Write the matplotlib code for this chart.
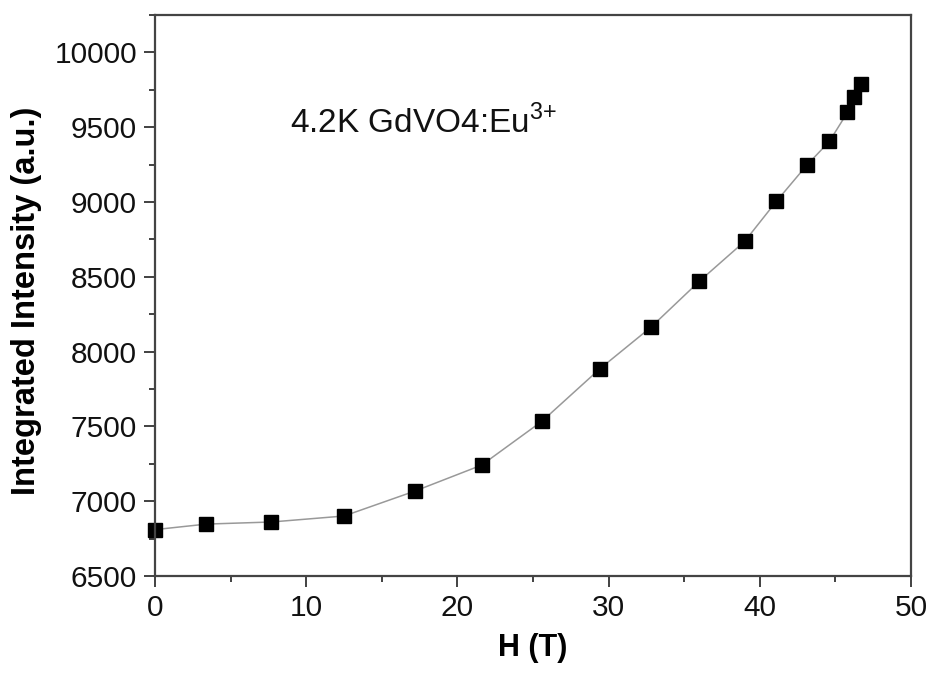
import matplotlib
matplotlib.use("Agg")
import matplotlib.pyplot as plt
from matplotlib.ticker import MultipleLocator

plt.rcParams['font.family'] = ['Liberation Sans', 'DejaVu Sans']
plt.rcParams['mathtext.fontset'] = 'custom'
plt.rcParams['mathtext.rm'] = 'Liberation Sans'

# field (T) and integrated intensity (a.u.)
field = [0.0, 3.4, 7.7, 12.5, 17.2, 21.6, 25.6, 29.4, 32.8, 36.0,
         39.0, 41.1, 43.1, 44.6, 45.8, 46.2, 46.7]
intensity = [6810, 6847, 6861, 6901, 7068, 7241, 7535, 7883, 8163, 8470,
             8737, 9005, 9245, 9405, 9599, 9699, 9786]

fig = plt.figure(figsize=(9.33, 6.82), dpi=100)
ax = fig.add_axes([155 / 933, 1 - 576 / 682, 756 / 933, 561 / 682])

ax.plot(field, intensity, color='#999999', lw=1.1, zorder=1)
ax.plot(field, intensity, ls='none', marker='s', ms=9.5, color='black',
        zorder=2, clip_on=False)

ax.set_xlim(0, 50)
ax.set_ylim(6500, 10250)
ax.xaxis.set_major_locator(MultipleLocator(10))
ax.xaxis.set_minor_locator(MultipleLocator(5))
ax.yaxis.set_major_locator(MultipleLocator(500))
ax.yaxis.set_minor_locator(MultipleLocator(250))
ax.tick_params(which='both', direction='out', top=False, right=False,
               labelsize=21.5, width=1.3, color='#333333', labelcolor='#111111')
ax.tick_params(which='major', length=8, pad=5)
ax.tick_params(which='minor', length=4.5)
for s in ax.spines.values():
    s.set_linewidth(1.6)
    s.set_color('#444444')

ax.set_xlabel('H (T)', fontsize=22, fontweight='bold', labelpad=8)
ax.set_ylabel('Integrated Intensity (a.u.)', fontsize=23.5, fontweight='bold',
              labelpad=6)
ax.yaxis.set_label_coords(-0.15, 0.49)

# annotation placed in figure fraction (baseline at ~133 px from top)
fig.text(290 / 933, 1 - 133 / 682, r'4.2K GdVO4:Eu$^{\mathregular{3{+}}}$',
         fontsize=24, va='baseline', ha='left', color='#111111')

fig.savefig('out.png', dpi=100)
